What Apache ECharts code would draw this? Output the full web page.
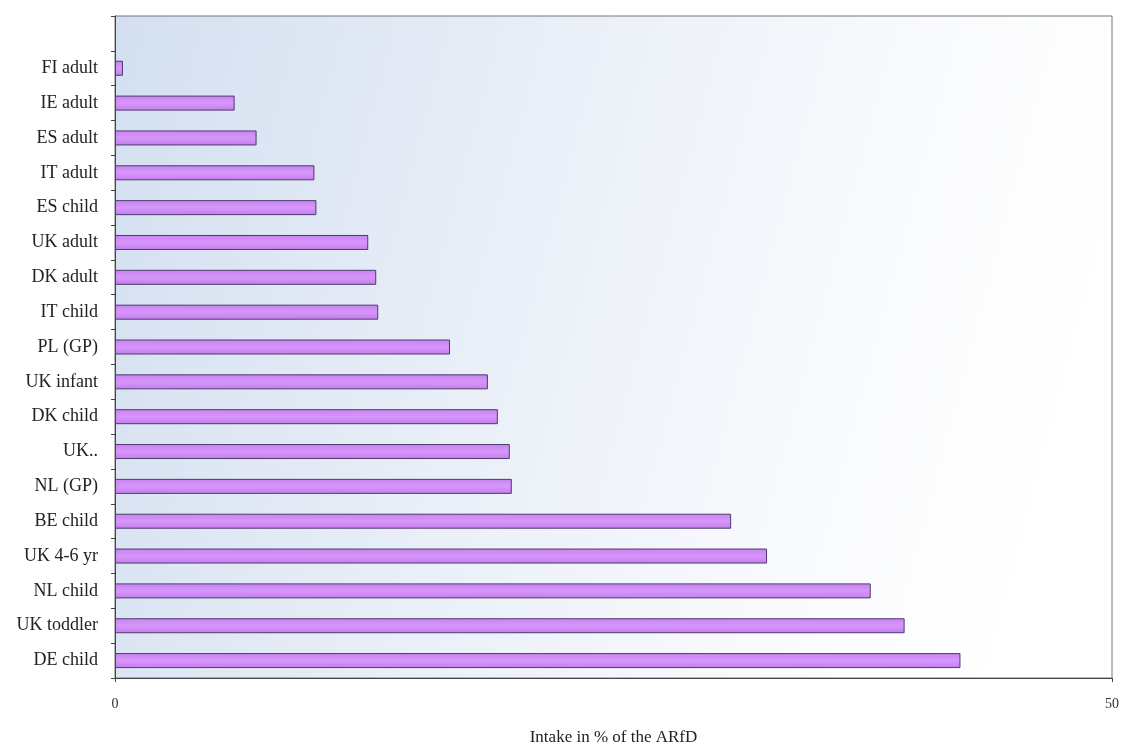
<!DOCTYPE html>
<html>
<head>
<meta charset="utf-8">
<script src="https://cdn.jsdelivr.net/npm/echarts@6/dist/echarts.min.js"></script>
<style>html,body{margin:0;padding:0;background:#fff;}#c{width:1121px;height:745px;}</style>
</head>
<body>
<div id="c"></div>
<script>
// categories listed bottom to top; the last empty slot is the blank band at the top
const categories = ["DE child","UK toddler","NL child","UK 4-6 yr","BE child","NL (GP)","UK..","DK child","UK infant","PL (GP)","IT child","DK adult","UK adult","ES child","IT adult","ES adult","IE adult","FI adult",""];
const intake = [42.4,39.6,37.9,32.7,30.9,19.9,19.8,19.2,18.7,16.8,13.2,13.1,12.7,10.1,10.0,7.1,6.0,0.4,null];
const xTicks = [0,50];
const xAxisTitle = "Intake in % of the ARfD";

const chart = echarts.init(document.getElementById('c'));
chart.setOption({
  animation:false,
  backgroundColor:'#ffffff',
  grid:{
    left:115, right:9, top:16, bottom:67, show:true, outerBoundsMode:'none', containLabel:false,
    borderColor:'#777', borderWidth:1,
    backgroundColor:{type:'linear',x:0,y:0,x2:1,y2:0.4,colorStops:[
      {offset:0,color:'#d3dff0'},{offset:0.45,color:'#ebf0f8'},{offset:0.8,color:'#fafbfd'},{offset:1,color:'#ffffff'}]}
  },
  xAxis:{
    type:'value', min:xTicks[0], max:xTicks[xTicks.length-1], interval:50,
    name:xAxisTitle, nameLocation:'middle', nameGap:51,
    nameTextStyle:{fontFamily:'Liberation Serif',fontSize:17,color:'#222',verticalAlign:'top'},
    axisLine:{show:true,lineStyle:{color:'#444',width:1}},
    axisTick:{show:true,length:4,lineStyle:{color:'#444'}},
    axisLabel:{fontFamily:'Liberation Serif',fontSize:14,color:'#333',margin:19},
    splitLine:{show:false}
  },
  yAxis:{
    type:'category', data:categories,
    axisLine:{show:true,lineStyle:{color:'#444',width:1}},
    axisTick:{show:true,length:4,lineStyle:{color:'#444'}},
    axisLabel:{fontFamily:'Liberation Serif',fontSize:18,color:'#222',margin:17},
    splitLine:{show:false}
  },
  series:[{
    type:'bar', data:intake, barWidth:15,
    itemStyle:{
      color:{type:'linear',x:0,y:0,x2:0,y2:1,colorStops:[{offset:0,color:'#c684ef'},{offset:0.5,color:'#d895fb'},{offset:1,color:'#c27fec'}]},
      borderColor:'#4d3b6e', borderWidth:1
    }
  }]
});
</script>
</body>
</html>
